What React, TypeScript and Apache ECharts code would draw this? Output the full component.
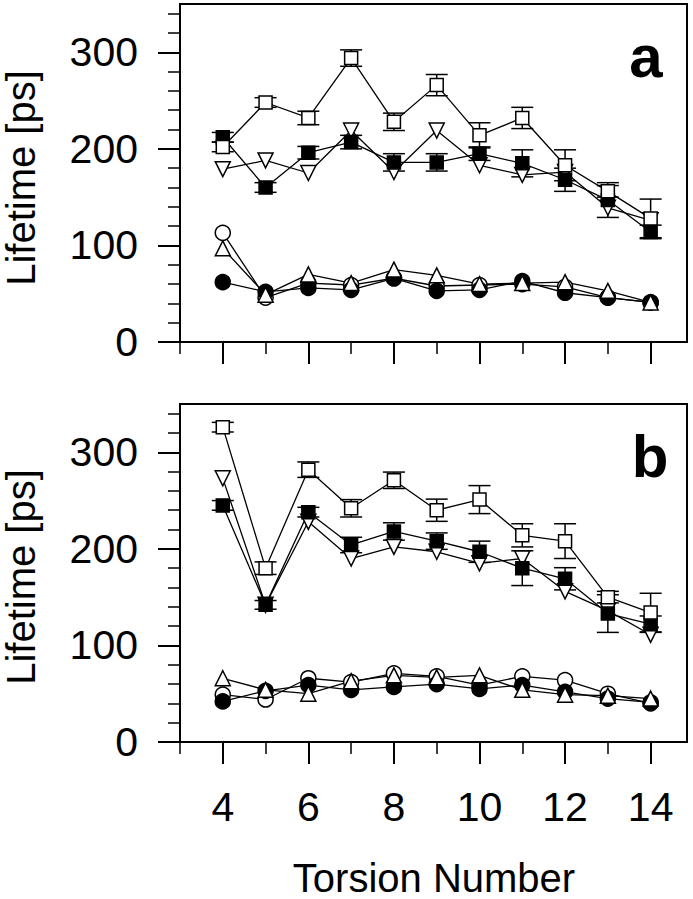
import React, { useEffect, useRef } from "react";
import * as echarts from "echarts";

const torsion = [4, 5, 6, 7, 8, 9, 10, 11, 12, 13, 14];
const majorX = [4, 6, 8, 10, 12, 14];
const minorX = [3, 5, 7, 9, 11, 13];
const majorY = [0, 100, 200, 300];
const minorY = [20, 40, 60, 80, 120, 140, 160, 180, 220, 240, 260, 280, 320, 340];

// Panel a
const aOpenSquare = [202, 248, 232, 294, 228, 266, 214, 232, 183, 156, 128];
const aOpenSquareErr = [5, 5, 7, 8.5, 9, 11, 13, 11, 16, 6, 20];
const aFilledSquare = [212, 160, 196, 207, 186, 186, 195, 185, 168, 147, 114];
const aFilledSquareErr = [5, 5, 6.5, 7, 9, 9, 7, 14, 12, 18, 7];
const aInvTriangle = [179, 188, 175, 219, 176, 219, 183, 173, 176, 139, 126];
const aOpenCircle = [113, 46, 61, 59, 66, 58, 59, 60, 57, 46, 41];
const aFilledCircle = [62, 52, 56, 54, 66, 53, 54, 63, 51, 46, 41];
const aTriangle = [97, 49, 70, 61, 75, 69, 60, 61, 62, 53, 41];

// Panel b
const bOpenSquare = [326, 180, 282, 242, 271, 240, 251, 214, 208, 150, 134];
const bOpenSquareErr = [5, 6.5, 8, 9, 8.5, 11.5, 14.5, 12, 18, 6, 20];
const bFilledSquare = [245, 142, 238, 204, 218, 208, 197, 180, 169, 133, 122];
const bFilledSquareErr = [5, 4.5, 5, 8, 9, 8.5, 11, 18, 11.5, 19.5, 8.5];
const bInvTriangle = [273, 142, 228, 190, 202, 197, 185, 190, 156, 136, 111];
const bOpenCircle = [49, 44, 66, 62, 71, 68, 59, 68, 64, 50, 40];
const bFilledCircle = [42, 53, 59, 54, 57, 60, 55, 59, 52, 45, 41];
const bTriangle = [66, 54, 50, 63, 69, 67, 69, 54, 49, 48, 45];

const FONT = '"Liberation Sans", Arial, Helvetica, sans-serif';

function pairs(vals: number[]) {
  return torsion.map((x, i) => [x, vals[i]]);
}

function errSeries(vals: number[], errs: number[], g: number) {
  return {
    type: "custom",
    xAxisIndex: g * 2,
    yAxisIndex: g * 2,
    z: 1,
    silent: true,
    data: torsion.map((x, i) => [x, vals[i], errs[i]]),
    renderItem: (params: any, api: any) => {
      const x = api.value(0);
      const y = api.value(1);
      const e = api.value(2);
      const top = api.coord([x, y + e]);
      const bot = api.coord([x, y - e]);
      const hw = 11;
      const style = { stroke: "#000", lineWidth: 1.5 };
      return {
        type: "group",
        children: [
          { type: "line", shape: { x1: top[0], y1: top[1], x2: bot[0], y2: bot[1] }, style },
          { type: "line", shape: { x1: top[0] - hw, y1: top[1], x2: top[0] + hw, y2: top[1] }, style },
          { type: "line", shape: { x1: bot[0] - hw, y1: bot[1], x2: bot[0] + hw, y2: bot[1] }, style },
        ],
      };
    },
  };
}

function lineSeries(vals: number[], g: number, symbol: string, filled: boolean, size: number, rotate = 0) {
  return {
    type: "line",
    xAxisIndex: g * 2,
    yAxisIndex: g * 2,
    z: 3,
    data: pairs(vals),
    symbol,
    symbolSize: size,
    symbolRotate: rotate,
    showAllSymbol: true,
    lineStyle: { color: "#000", width: 1.3 },
    itemStyle: { color: filled ? "#000" : "#fff", borderColor: "#000", borderWidth: 1.5 },
    emphasis: { disabled: true },
  };
}

function panelSeries(g: number, d: any) {
  return [
    errSeries(d.os, d.ose, g),
    errSeries(d.fs, d.fse, g),
    lineSeries(d.oc, g, "circle", false, 15),
    lineSeries(d.fc, g, "circle", true, 15),
    lineSeries(d.tr, g, "triangle", false, 15),
    lineSeries(d.it, g, "triangle", false, 15, 180),
    lineSeries(d.fs, g, "rect", true, 13),
    lineSeries(d.os, g, "rect", false, 13),
  ];
}

function xAxes(g: number) {
  return [
    {
      type: "value",
      gridIndex: g,
      position: "bottom",
      min: 3,
      max: 14.85,
      axisLine: { show: true, lineStyle: { color: "#000", width: 2 } },
      axisTick: { show: true, inside: false, length: 22, customValues: majorX, lineStyle: { color: "#000", width: 2 } },
      axisLabel: {
        show: g === 1,
        customValues: majorX,
        color: "#000",
        fontSize: 41,
        fontFamily: FONT,
        margin: 44,
      },
      splitLine: { show: false },
    },
    {
      type: "value",
      gridIndex: g,
      position: "bottom",
      offset: 0,
      min: 3,
      max: 14.85,
      axisLine: { show: false },
      axisTick: { show: true, inside: false, length: 12, customValues: minorX, lineStyle: { color: "#000", width: 1.5 } },
      axisLabel: { show: false },
      splitLine: { show: false },
    },
  ];
}

function yAxes(g: number) {
  return [
    {
      type: "value",
      gridIndex: g,
      position: "left",
      min: 0,
      max: 350,
      axisLine: { show: true, lineStyle: { color: "#000", width: 2 } },
      axisTick: { show: true, inside: false, length: 22, customValues: majorY, lineStyle: { color: "#000", width: 2 } },
      axisLabel: {
        show: true,
        customValues: majorY,
        color: "#000",
        fontSize: 41,
        fontFamily: FONT,
        margin: 42,
      },
      splitLine: { show: false },
    },
    {
      type: "value",
      gridIndex: g,
      position: "left",
      offset: 0,
      min: 0,
      max: 350,
      axisLine: { show: false },
      axisTick: { show: true, inside: false, length: 12, customValues: minorY, lineStyle: { color: "#000", width: 1.5 } },
      axisLabel: { show: false },
      splitLine: { show: false },
    },
  ];
}

export default function App() {
  const ref = useRef<HTMLDivElement>(null);
  useEffect(() => {
    if (!ref.current) return;
    const chart = echarts.init(ref.current, undefined, { renderer: "svg" });
    const gridStyle = { show: true, borderColor: "#000", borderWidth: 2, backgroundColor: "transparent", containLabel: false };
    const option: any = {
      animation: false,
      backgroundColor: "#fff",
      grid: [
        { ...gridStyle, left: 180, top: 4, width: 507, height: 338 },
        { ...gridStyle, left: 180, top: 404, width: 507, height: 338 },
      ],
      xAxis: [...xAxes(0), ...xAxes(1)],
      yAxis: [...yAxes(0), ...yAxes(1)],
      series: [
        ...panelSeries(0, {
          os: aOpenSquare, ose: aOpenSquareErr, fs: aFilledSquare, fse: aFilledSquareErr,
          it: aInvTriangle, oc: aOpenCircle, fc: aFilledCircle, tr: aTriangle,
        }),
        ...panelSeries(1, {
          os: bOpenSquare, ose: bOpenSquareErr, fs: bFilledSquare, fse: bFilledSquareErr,
          it: bInvTriangle, oc: bOpenCircle, fc: bFilledCircle, tr: bTriangle,
        }),
      ],
      graphic: [
        {
          type: "text", x: 434, y: 878,
          style: { text: "Torsion Number", font: `40px ${FONT}`, fill: "#000", textAlign: "center", textVerticalAlign: "middle" },
        },
        {
          type: "text", x: 21, y: 178, rotation: Math.PI / 2,
          style: { text: "Lifetime [ps]", font: `40px ${FONT}`, fill: "#000", textAlign: "center", textVerticalAlign: "middle" },
        },
        {
          type: "text", x: 21, y: 577, rotation: Math.PI / 2,
          style: { text: "Lifetime [ps]", font: `40px ${FONT}`, fill: "#000", textAlign: "center", textVerticalAlign: "middle" },
        },
        {
          type: "text", x: 646, y: 56,
          style: { text: "a", font: `bold 60px ${FONT}`, fill: "#000", textAlign: "center", textVerticalAlign: "middle" },
        },
        {
          type: "text", x: 650, y: 456,
          style: { text: "b", font: `bold 60px ${FONT}`, fill: "#000", textAlign: "center", textVerticalAlign: "middle" },
        },
      ],
    };
    chart.setOption(option);
    return () => chart.dispose();
  }, []);
  return <div ref={ref} style={{ position: "absolute", left: 0, top: 0, width: 693, height: 899 }} />;
}
